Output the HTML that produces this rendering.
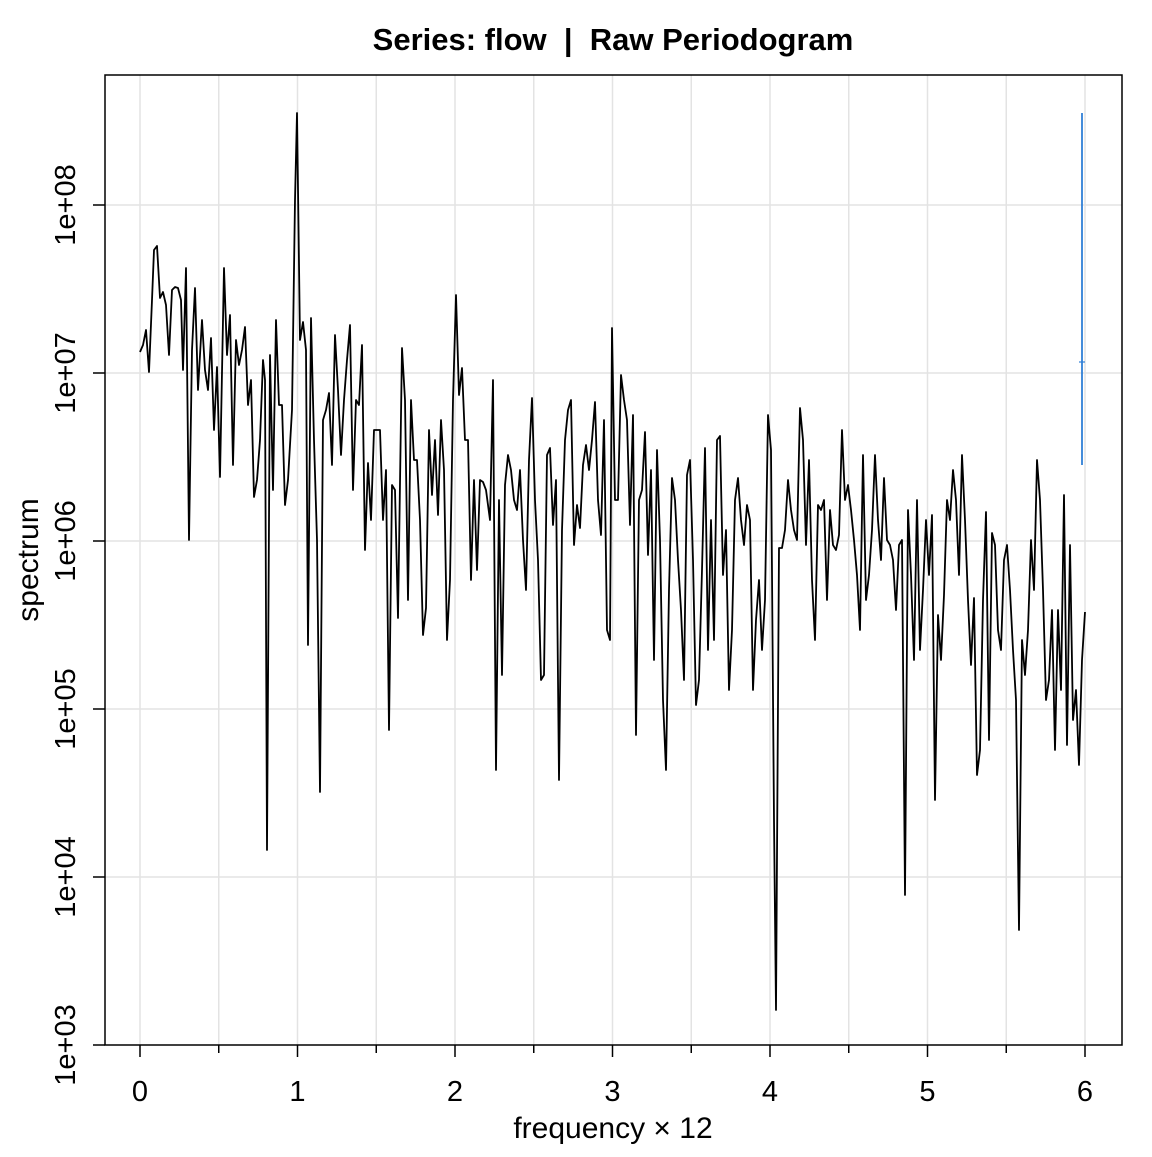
<!DOCTYPE html>
<html><head><style>body{margin:0;background:#fff}</style></head><body>
<svg width="1152" height="1152" xmlns="http://www.w3.org/2000/svg" font-family="Liberation Sans, Arial, sans-serif">
<rect width="1152" height="1152" fill="#fff"/>
<g stroke="#e3e3e3" stroke-width="1.5">
<line x1="140" y1="75" x2="140" y2="1045"/><line x1="218.75" y1="75" x2="218.75" y2="1045"/><line x1="297.5" y1="75" x2="297.5" y2="1045"/><line x1="376.25" y1="75" x2="376.25" y2="1045"/><line x1="455" y1="75" x2="455" y2="1045"/><line x1="533.75" y1="75" x2="533.75" y2="1045"/><line x1="612.5" y1="75" x2="612.5" y2="1045"/><line x1="691.25" y1="75" x2="691.25" y2="1045"/><line x1="770" y1="75" x2="770" y2="1045"/><line x1="848.75" y1="75" x2="848.75" y2="1045"/><line x1="927.5" y1="75" x2="927.5" y2="1045"/><line x1="1006.25" y1="75" x2="1006.25" y2="1045"/><line x1="1085" y1="75" x2="1085" y2="1045"/>
<line x1="105" y1="877" x2="1122" y2="877"/><line x1="105" y1="709" x2="1122" y2="709"/><line x1="105" y1="541" x2="1122" y2="541"/><line x1="105" y1="373" x2="1122" y2="373"/><line x1="105" y1="205" x2="1122" y2="205"/>
</g>
<rect x="105" y="75" width="1017" height="970" fill="none" stroke="#000" stroke-width="1.5"/>
<g stroke="#000" stroke-width="1.5">
<line x1="140" y1="1045" x2="140" y2="1057"/><line x1="218.75" y1="1045" x2="218.75" y2="1053"/><line x1="297.5" y1="1045" x2="297.5" y2="1057"/><line x1="376.25" y1="1045" x2="376.25" y2="1053"/><line x1="455" y1="1045" x2="455" y2="1057"/><line x1="533.75" y1="1045" x2="533.75" y2="1053"/><line x1="612.5" y1="1045" x2="612.5" y2="1057"/><line x1="691.25" y1="1045" x2="691.25" y2="1053"/><line x1="770" y1="1045" x2="770" y2="1057"/><line x1="848.75" y1="1045" x2="848.75" y2="1053"/><line x1="927.5" y1="1045" x2="927.5" y2="1057"/><line x1="1006.25" y1="1045" x2="1006.25" y2="1053"/><line x1="1085" y1="1045" x2="1085" y2="1057"/>
<line x1="93" y1="1045" x2="105" y2="1045"/><line x1="93" y1="877" x2="105" y2="877"/><line x1="93" y1="709" x2="105" y2="709"/><line x1="93" y1="541" x2="105" y2="541"/><line x1="93" y1="373" x2="105" y2="373"/><line x1="93" y1="205" x2="105" y2="205"/>
</g>
<g font-size="29" text-anchor="middle">
<text x="140" y="1101">0</text><text x="297.5" y="1101">1</text><text x="455" y="1101">2</text><text x="612.5" y="1101">3</text><text x="770" y="1101">4</text><text x="927.5" y="1101">5</text><text x="1085" y="1101">6</text>
<text transform="translate(75,1045) rotate(-90)">1e+03</text>
<text transform="translate(75,877) rotate(-90)">1e+04</text>
<text transform="translate(75,709) rotate(-90)">1e+05</text>
<text transform="translate(75,541) rotate(-90)">1e+06</text>
<text transform="translate(75,373) rotate(-90)">1e+07</text>
<text transform="translate(75,205) rotate(-90)">1e+08</text>
<text x="613" y="1138" font-size="30">frequency × 12</text>
<text transform="translate(38,560) rotate(-90)" font-size="30">spectrum</text>
<text x="613" y="50" font-weight="bold" font-size="31">Series: flow &#160;| &#160;Raw Periodogram</text>
</g>
<polyline fill="none" stroke="#000" stroke-width="1.8" stroke-linejoin="round" points="140,352 143,345 146,330 149,372 152,300 154,250 157,246 160,298 163,292 166,305 169,355 172,290 175,287 178,288 181,300 183,370 186,268 189,540 192,350 195,288 198,390 202,320 205,370 208,390 211,338 214,430 217,367 220,477 224,268 227,355 230,315 233,465 236,340 239,365 242,350 245,327 248,405 251,380 254,497 257,480 260,440 263,360 265,380 267,850 270,355 273,490 276,320 279,405 282,405 285,505 288,480 292,410 295,200 297,113 300,340 303,322 306,350 308,645 311,318 314,440 317,540 320,792 323,420 326,410 329,393 332,465 335,335 338,390 341,455 344,400 347,360 350,325 353,490 356,400 359,405 362,345 365,550 368,463 371,520 374,430 377,430 380,430 383,520 386,470 389,730 392,485 395,490 398,618 402,348 405,400 408,600 411,400 414,460 417,460 420,520 423,635 426,608 429,430 432,495 435,440 438,515 441,420 444,470 447,640 450,580 453,400 456,295 459,395 462,368 465,440 468,440 471,580 474,480 477,570 480,480 483,482 486,490 490,520 493,380 496,770 499,500 502,675 505,485 508,455 511,470 514,500 517,510 520,470 523,540 526,590 529,460 532,398 535,500 538,560 541,680 544,675 547,455 550,448 553,525 556,480 559,780 562,530 565,440 568,410 571,400 574,545 577,505 580,528 583,465 586,445 589,470 592,440 595,402 598,500 601,535 604,420 607,630 610,640 612,328 615,500 618,500 621,375 624,400 627,420 630,525 633,415 636,735 639,500 642,490 645,432 648,555 651,470 654,660 657,450 660,540 663,700 666,770 669,590 672,478 675,500 678,560 681,610 684,680 687,475 690,460 693,560 696,705 699,680 702,570 705,448 708,650 711,520 714,640 717,440 720,436 723,575 726,530 729,690 732,630 735,500 738,478 741,520 744,545 747,505 750,520 753,690 756,620 759,580 762,650 765,600 768,415 771,450 774,820 776,1010 779,548 782,548 785,530 788,480 791,510 794,530 797,540 800,408 803,440 806,545 809,460 812,580 815,640 818,505 821,510 824,500 827,600 830,510 833,545 836,550 839,535 842,430 845,500 848,485 851,510 854,540 857,575 860,630 863,455 866,600 869,575 872,530 875,455 878,520 881,560 884,478 887,540 890,545 893,560 896,610 899,545 902,540 905,895 908,510 911,575 914,660 917,500 920,650 923,590 926,520 929,575 932,515 935,800 938,615 941,660 944,595 947,500 950,520 953,470 956,500 959,575 962,455 965,520 968,600 971,665 974,598 977,775 980,750 983,600 986,512 989,740 992,533 995,545 998,630 1001,650 1004,560 1007,545 1010,590 1013,650 1016,700 1019,930 1022,640 1025,675 1028,630 1031,540 1034,590 1037,460 1040,500 1043,590 1046,700 1049,680 1052,610 1055,750 1058,610 1061,690 1064,495 1067,745 1070,545 1073,720 1076,690 1079,765 1082,660 1085,612"/>
<line x1="1082" y1="113" x2="1082" y2="465" stroke="#2f7fd6" stroke-width="1.8"/>
<line x1="1079" y1="362" x2="1085" y2="362" stroke="#2f7fd6" stroke-width="1.2"/>
</svg>
</body></html>
